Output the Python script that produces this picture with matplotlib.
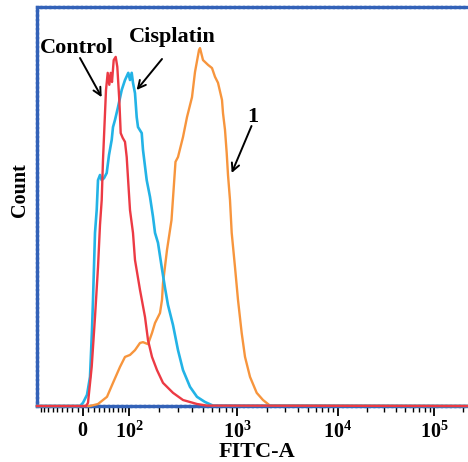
import numpy as np
import matplotlib
matplotlib.use("Agg")
import matplotlib.pyplot as plt
from matplotlib.ticker import FixedLocator, FixedFormatter, NullFormatter

# ---------------- data (FITC-A intensity, relative count) ----------------
control_x = [-100, 5.47, 9.129, 15.95, 22.14, 27.86, 31.75, 35.11, 37.71, 43.85, 47.41, 50.83, 53.88,
             56.76, 60.6, 65.24, 69.04, 73.93, 77.44, 82.59, 88.73, 93.43, 97.97, 102.6, 110.6, 116.2,
             131, 147.2, 157.6, 172.3, 192.3, 218.9, 270.6, 333.2, 444.3, 544.8, 262144]
control_y = [0, 0, 0.8, 9.8, 22.3, 34.8, 45.4, 51.6, 61.7, 79.2, 83.5, 80.5, 83.5, 81.2, 86.7, 87.5,
             85.0, 76.7, 68.4, 67.2, 66.2, 62.4, 55.9, 49.1, 43.4, 36.6, 29.1, 22.3, 16.5, 12.3, 9.0,
             5.8, 3.3, 1.5, 0.5, 0.1, 0]

cisplatin_x = [-100, -5.47, 0, 7.298, 12.81, 16.51, 18.38, 22.14, 25.37, 27.86, 31.75, 35.11, 39.74,
               45.31, 50.19, 56.09, 59.01, 63.6, 70.74, 80, 88.73, 97.97, 102.6, 107.1, 110.6, 116.2,
               121.1, 125, 136.4, 140.5, 153, 164.8, 176.2, 184.1, 196.5, 212.9, 228.5, 243.5, 270.6,
               300.4, 333.2, 385, 444.3, 523.1, 615.4, 262144]
cisplatin_y = [0, 0, 0.8, 2.8, 7.3, 19.0, 26.6, 43.4, 49.1, 56.6, 57.9, 56.6, 57.1, 58.4, 62.9, 66.7,
               69.9, 71.7, 74.9, 79.2, 81.7, 83.5, 81.7, 83.5, 81.0, 78.4, 72.4, 69.9, 68.4, 64.2, 56.6,
               52.4, 47.4, 43.4, 40.9, 34.8, 29.6, 25.3, 20.3, 14.0, 9.0, 4.8, 2.3, 1.0, 0.1, 0]

sample1_x = [-100, 12.81, 27.86, 45.94, 59.01, 75.68, 88.73, 102.6, 116.2, 131, 140.5, 157.6, 172.3,
             184.1, 205.2, 214.3, 218.9, 238.4, 262.2, 285.1, 300.4, 333.2, 361.9, 401.1, 426.5, 462.9,
             472.4, 502.2, 556, 603, 640.9, 681.1, 738.5, 753.6, 784.7, 812.2, 833.8, 868.2, 898.5,
             960.4, 1023, 1113, 1201, 1346, 1568, 1810, 2123, 262144]
sample1_y = [0, 0.0, 0.5, 2.3, 5.8, 9.8, 12.3, 12.8, 14.0, 15.8, 16.0, 15.5, 18.3, 20.8, 23.3, 26.6,
             30.8, 39.1, 46.6, 61.2, 62.4, 67.4, 72.4, 77.4, 83.7, 89.2, 89.7, 86.7, 85.5, 84.7, 82.5,
             81.0, 76.7, 73.4, 69.2, 63.4, 57.9, 51.6, 43.4, 34.8, 26.6, 18.3, 12.3, 7.3, 3.3, 1.5,
             0.1, 0]

major_ticks = [0, 1e2, 1e3, 1e4, 1e5]
major_labels = [r"$\mathbf{0}$", r"$\mathbf{10^{2}}$", r"$\mathbf{10^{3}}$",
                r"$\mathbf{10^{4}}$", r"$\mathbf{10^{5}}$"]
minor_ticks = ([-v for v in range(10, 100, 10)] + list(range(10, 100, 10)) +
               [m * 10 ** d for d in (2, 3, 4) for m in range(2, 10)] + [2e5])

# ---------------- biexponential-like display scale ----------------
C = 80.0
anchor_vals = np.array(major_ticks)
anchor_pos = np.array([0.0, 46.0, 154.0, 255.0, 351.0])
anchor_u = np.arcsinh(anchor_vals / C) / np.log(10)
s_lo = (anchor_pos[1] - anchor_pos[0]) / (anchor_u[1] - anchor_u[0])
s_hi = (anchor_pos[-1] - anchor_pos[-2]) / (anchor_u[-1] - anchor_u[-2])


def fwd(x):
    x = np.asarray(x, float)
    u = np.arcsinh(x / C) / np.log(10)
    p = np.interp(u, anchor_u, anchor_pos)
    p = np.where(u < anchor_u[0], anchor_pos[0] + (u - anchor_u[0]) * s_lo, p)
    p = np.where(u > anchor_u[-1], anchor_pos[-1] + (u - anchor_u[-1]) * s_hi, p)
    return p


def inv(p):
    p = np.asarray(p, float)
    u = np.interp(p, anchor_pos, anchor_u)
    u = np.where(p < anchor_pos[0], anchor_u[0] + (p - anchor_pos[0]) / s_lo, u)
    u = np.where(p > anchor_pos[-1], anchor_u[-1] + (p - anchor_pos[-1]) / s_hi, u)
    return C * np.sinh(u * np.log(10))


# ---------------- figure ----------------
serif = ["Liberation Serif", "DejaVu Serif"]
plt.rcParams["font.family"] = serif
plt.rcParams["font.weight"] = "bold"
plt.rcParams["mathtext.fontset"] = "custom"
plt.rcParams["mathtext.rm"] = "Liberation Serif"
plt.rcParams["mathtext.bf"] = "Liberation Serif:bold"

fig = plt.figure(figsize=(4.68, 4.62), dpi=100)
W, H = 468.0, 462.0
ax = fig.add_axes([37 / W, 1 - 406 / H, 1 - 37 / W, (406 - 7) / H])
ax.set_xscale("function", functions=(fwd, inv))

red, cyan, orange = "#ec3a44", "#23b3e6", "#f7953d"
ax.plot(sample1_x, sample1_y, color=orange, lw=1.7, zorder=3, clip_on=False)
ax.plot(cisplatin_x, cisplatin_y, color=cyan, lw=1.9, zorder=3.1, clip_on=False)
ax.plot(control_x, control_y, color=red, lw=1.7, zorder=3.2, clip_on=False)

ax.set_xlim(-100, 226029)
ax.set_ylim(0, 100)

ax.xaxis.set_major_locator(FixedLocator(major_ticks))
ax.xaxis.set_major_formatter(FixedFormatter(major_labels))
ax.xaxis.set_minor_locator(FixedLocator(minor_ticks))
ax.xaxis.set_minor_formatter(NullFormatter())
ax.tick_params(axis="x", which="major", direction="out", length=7, width=1.3,
               color="black", labelsize=14.5, pad=4)
ax.tick_params(axis="x", which="minor", direction="out", length=4, width=1.0, color="black")
ax.set_yticks([])

spine_col = "#3362b8"
for side in ("left", "top", "bottom"):
    ax.spines[side].set_color(spine_col)
    ax.spines[side].set_linewidth(2.4)
    ax.spines[side].set_linestyle((0, (1.0, 0.35)))
ax.spines["right"].set_visible(False)

ax.set_xlabel("FITC-A", fontsize=16, fontweight="bold")
ax.xaxis.set_label_coords((257 - 37) / 431, -(452 - 406) / 399, transform=ax.transAxes)
ax.xaxis.label.set_va("center")
ax.set_ylabel("Count", fontsize=14.5, fontweight="bold")
ax.yaxis.set_label_coords(-(37 - 20) / 431, (406 - 190) / 399)
ax.yaxis.label.set_va("center")


def afrac(px, py):
    return ((px - 37) / 431.0, (406 - py) / 399.0)


txt = dict(fontsize=16, fontweight="bold", ha="center", va="center", transform=ax.transAxes)
ax.text(*afrac(77, 48), "Control", **txt)
ax.text(*afrac(172, 37), "Cisplatin", **txt)
ax.text(*afrac(253, 117), "1", **txt)

arrow = dict(arrowstyle="->,head_length=0.55,head_width=0.28", lw=1.4, color="black",
             shrinkA=0, shrinkB=0)
ax.annotate("", xy=(35, 77.4), xycoords="data", xytext=afrac(80, 58),
            textcoords="axes fraction", arrowprops=arrow)
ax.annotate("", xy=(121, 79.2), xycoords="data", xytext=afrac(162, 59),
            textcoords="axes fraction", arrowprops=arrow)
ax.annotate("", xy=(898, 58.4), xycoords="data", xytext=afrac(251.5, 126),
            textcoords="axes fraction", arrowprops=arrow)

fig.savefig("out.png", dpi=100)
